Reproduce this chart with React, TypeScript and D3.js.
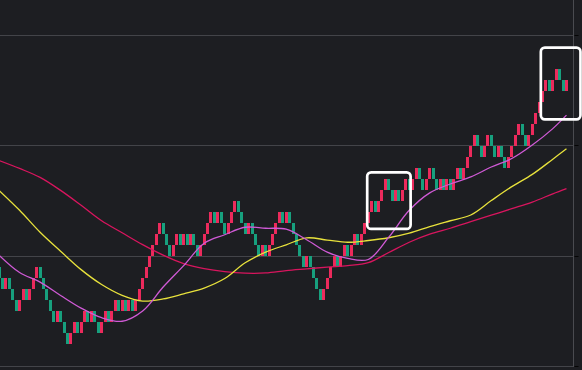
import React, { useEffect, useRef } from 'react';
import * as d3 from 'd3';

// brick closes in box units (open = previous close)
const startLevel = -1;
const brickCloses = [
  -2, -3, -2, -3, -4, -5, -4, -3, -4, -3, -2, -1, -2, -3, -4, -5, -6, -5, -6, -7,
  -8, -7, -6, -7, -6, -5, -6, -5, -6, -7, -6, -5, -6, -5, -4, -5, -4, -5, -4, -5,
  -4, -3, -2, -1, 0, 1, 2, 3, 2, 1, 0, 1, 2, 1, 2, 1, 2, 1, 0, 1,
  2, 3, 4, 3, 4, 3, 2, 3, 4, 5, 4, 3, 2, 3, 2, 1, 0, 1, 0, 1,
  2, 3, 4, 3, 4, 3, 2, 1, 0, -1, 0, -1, -2, -3, -4, -3, -2, -1, 0, -1,
  0, 1, 0, 1, 2, 1, 2, 3, 4, 5, 4, 5, 6, 7, 6, 5, 6, 5, 6, 7,
  6, 7, 8, 7, 6, 7, 8, 7, 6, 7, 6, 7, 6, 7, 8, 7, 8, 9, 10, 11,
  10, 9, 10, 11, 10, 9, 10, 9, 8, 9, 10, 11, 12, 11, 10, 11, 12, 13, 14, 15,
  16, 15, 16, 17, 16, 15, 16,
];

// moving averages, at these brick indices
const maIndex = [0, 6, 12, 18, 24, 30, 36, 42, 48, 54, 60, 66, 72, 78, 84, 90, 96, 102, 108, 114, 120, 126, 132, 138, 144, 150, 156, 162, 166];
const maFast = [0.09, -1.48, -2.35, -3.56, -4.71, -5.58, -5.9, -4.97, -2.8, -0.86, 1.17, 1.94, 2.62, 2.53, 2.44, 1.49, 0.36, -0.21, -0.3, 1.72, 4.16, 5.74, 6.54, 7.18, 8.08, 8.85, 10.07, 11.56, 12.78];
const maMid = [5.96, 4.16, 2.17, 0.45, -1.22, -2.57, -3.55, -4.07, -3.88, -3.41, -2.89, -2.03, -0.6, 0.36, 1.03, 1.66, 1.46, 1.26, 1.42, 1.67, 2.08, 2.68, 3.21, 3.73, 5.04, 6.3, 7.41, 8.79, 9.73];
const maSlow = [8.67, 7.95, 7.14, 5.96, 4.61, 3.21, 2.12, 1.04, 0.09, -0.68, -1.13, -1.4, -1.54, -1.52, -1.31, -1.15, -0.99, -0.86, -0.59, 0.33, 1.26, 1.99, 2.53, 3.12, 3.71, 4.3, 4.9, 5.65, 6.12];

const gridLevels = [-10, 0, 10, 20];

// highlighted windows (brick index range, level range)
const boxFrom = [107.7, 158.5];
const boxTo = [120.4, 170.1];
const boxLow = [2.47, 12.4];
const boxHigh = [7.6, 18.9];

const App = () => {
  const svgRef = useRef<SVGSVGElement>(null);

  useEffect(() => {
    const width = 582;
    const height = 370;
    const axisX = 573.5;

    const svg = d3.select(svgRef.current);
    svg.selectAll('*').remove();
    svg.attr('width', width).attr('height', height);

    svg.append('rect').attr('width', width).attr('height', height).attr('fill', '#1d1e22');

    const x = d3.scaleLinear().domain([0, 166]).range([-0.92, 566.47]);
    const y = d3.scaleLinear().domain([-10, 20]).range([366.5, 35.5]);
    const bw = 3;

    // grid
    svg.append('g')
      .selectAll('line')
      .data(gridLevels)
      .enter()
      .append('line')
      .attr('x1', 0)
      .attr('x2', axisX)
      .attr('y1', d => Math.floor(y(d)) + 0.5)
      .attr('y2', d => Math.floor(y(d)) + 0.5)
      .attr('stroke', '#434449')
      .attr('stroke-width', 1);

    svg.append('line')
      .attr('x1', axisX).attr('x2', axisX)
      .attr('y1', 0).attr('y2', Math.floor(y(-10)) + 1)
      .attr('stroke', '#4a4b50');

    svg.append('g')
      .selectAll('line')
      .data(gridLevels)
      .enter()
      .append('line')
      .attr('x1', axisX + 1)
      .attr('x2', axisX + 5)
      .attr('y1', d => Math.floor(y(d)) + 0.5)
      .attr('y2', d => Math.floor(y(d)) + 0.5)
      .attr('stroke', '#050505');

    // bricks
    const bricks = brickCloses.map((c, i) => ({
      i,
      open: i === 0 ? startLevel : brickCloses[i - 1],
      close: c,
    }));

    svg.append('g')
      .attr('shape-rendering', 'crispEdges')
      .selectAll('rect')
      .data(bricks)
      .enter()
      .append('rect')
      .attr('x', d => Math.round(x(d.i) - bw / 2))
      .attr('width', bw)
      .attr('y', d => Math.round(y(Math.max(d.open, d.close))))
      .attr('height', d => Math.round(y(Math.min(d.open, d.close))) - Math.round(y(Math.max(d.open, d.close))))
      .attr('fill', d => (d.close > d.open ? '#ec2a5c' : '#17a07e'));

    // moving averages
    const line = d3.line<number>()
      .x((_, k) => x(maIndex[k]))
      .y(d => y(d))
      .curve(d3.curveCatmullRom.alpha(0.5));

    const series = [
      { values: maSlow, color: '#d8155e' },
      { values: maMid, color: '#e8e23c' },
      { values: maFast, color: '#d05ad6' },
    ];

    svg.append('g')
      .selectAll('path')
      .data(series)
      .enter()
      .append('path')
      .attr('d', d => line(d.values))
      .attr('fill', 'none')
      .attr('stroke', d => d.color)
      .attr('stroke-width', 1.3);

    // highlight boxes
    svg.append('g')
      .selectAll('rect')
      .data(boxFrom.map((f, k) => ({ f, t: boxTo[k], lo: boxLow[k], hi: boxHigh[k] })))
      .enter()
      .append('rect')
      .attr('x', d => x(d.f))
      .attr('y', d => y(d.hi))
      .attr('width', d => x(d.t) - x(d.f))
      .attr('height', d => y(d.lo) - y(d.hi))
      .attr('rx', 4)
      .attr('fill', 'none')
      .attr('stroke', '#ffffff')
      .attr('stroke-width', 2.7);
  }, []);

  return (
    <div style={{ position: 'absolute', left: 0, top: 0 }}>
      <svg ref={svgRef} style={{ display: 'block' }}></svg>
    </div>
  );
};

export default App;
